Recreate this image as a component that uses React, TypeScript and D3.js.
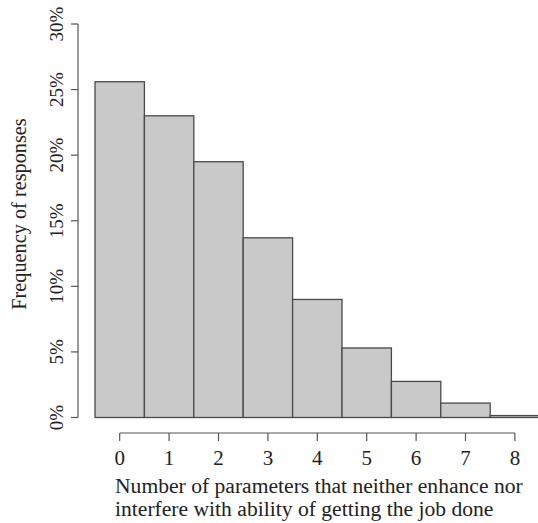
import * as d3 from "d3"

const counts = ["0", "1", "2", "3", "4", "5", "6", "7", "8"]
const freq = [25.6, 23.0, 19.5, 13.7, 9.0, 5.3, 2.75, 1.1, 0.15]
const yTicks = [0, 5, 10, 15, 20, 25, 30]

const W = 538
const H = 523

export default function App() {
  const x = d3.scaleLinear().domain([-0.5, 8.5]).range([95, 539.6])
  const y = d3.scaleLinear().domain([0, 30]).range([417.5, 24])
  const font = "'Liberation Serif', 'Times New Roman', serif"
  const axisColor = "#555"

  return (
    <svg
      width={W}
      height={H}
      style={{ position: "absolute", left: 0, top: 0, background: "#fff" }}
      fontFamily={font}
    >
      {freq.map((f, i) => (
        <rect
          key={counts[i]}
          x={x(i - 0.5)}
          y={y(f)}
          width={x(i + 0.5) - x(i - 0.5)}
          height={y(0) - y(f)}
          fill="#c9c9c9"
          stroke="#4a4a4a"
          strokeWidth={1.3}
        />
      ))}

      {/* y axis */}
      <line x1={78} x2={78} y1={y(0)} y2={y(30)} stroke={axisColor} strokeWidth={1.2} />
      {yTicks.map((t) => (
        <g key={t}>
          <line x1={71} x2={78} y1={y(t)} y2={y(t)} stroke={axisColor} strokeWidth={1.2} />
          <text
            transform={`translate(63,${y(t)}) rotate(-90)`}
            textAnchor="middle"
            fontSize={19}
            fill="#222"
          >
            {t}%
          </text>
        </g>
      ))}
      <text
        transform={`translate(26,214) rotate(-90)`}
        textAnchor="middle"
        fontSize={20.3}
        fill="#222"
      >
        Frequency of responses
      </text>

      {/* x axis */}
      <line x1={x(0)} x2={x(8)} y1={433} y2={433} stroke={axisColor} strokeWidth={1.2} />
      {counts.map((c, i) => (
        <g key={c}>
          <line x1={x(i)} x2={x(i)} y1={433} y2={441} stroke={axisColor} strokeWidth={1.2} />
          <text x={x(i)} y={465} textAnchor="middle" fontSize={21} fill="#222">
            {c}
          </text>
        </g>
      ))}
      <text x={115} y={493} fontSize={21.6} fill="#222">
        Number of parameters that neither enhance nor
      </text>
      <text x={115} y={516} fontSize={21.6} fill="#222">
        interfere with ability of getting the job done
      </text>
    </svg>
  )
}
